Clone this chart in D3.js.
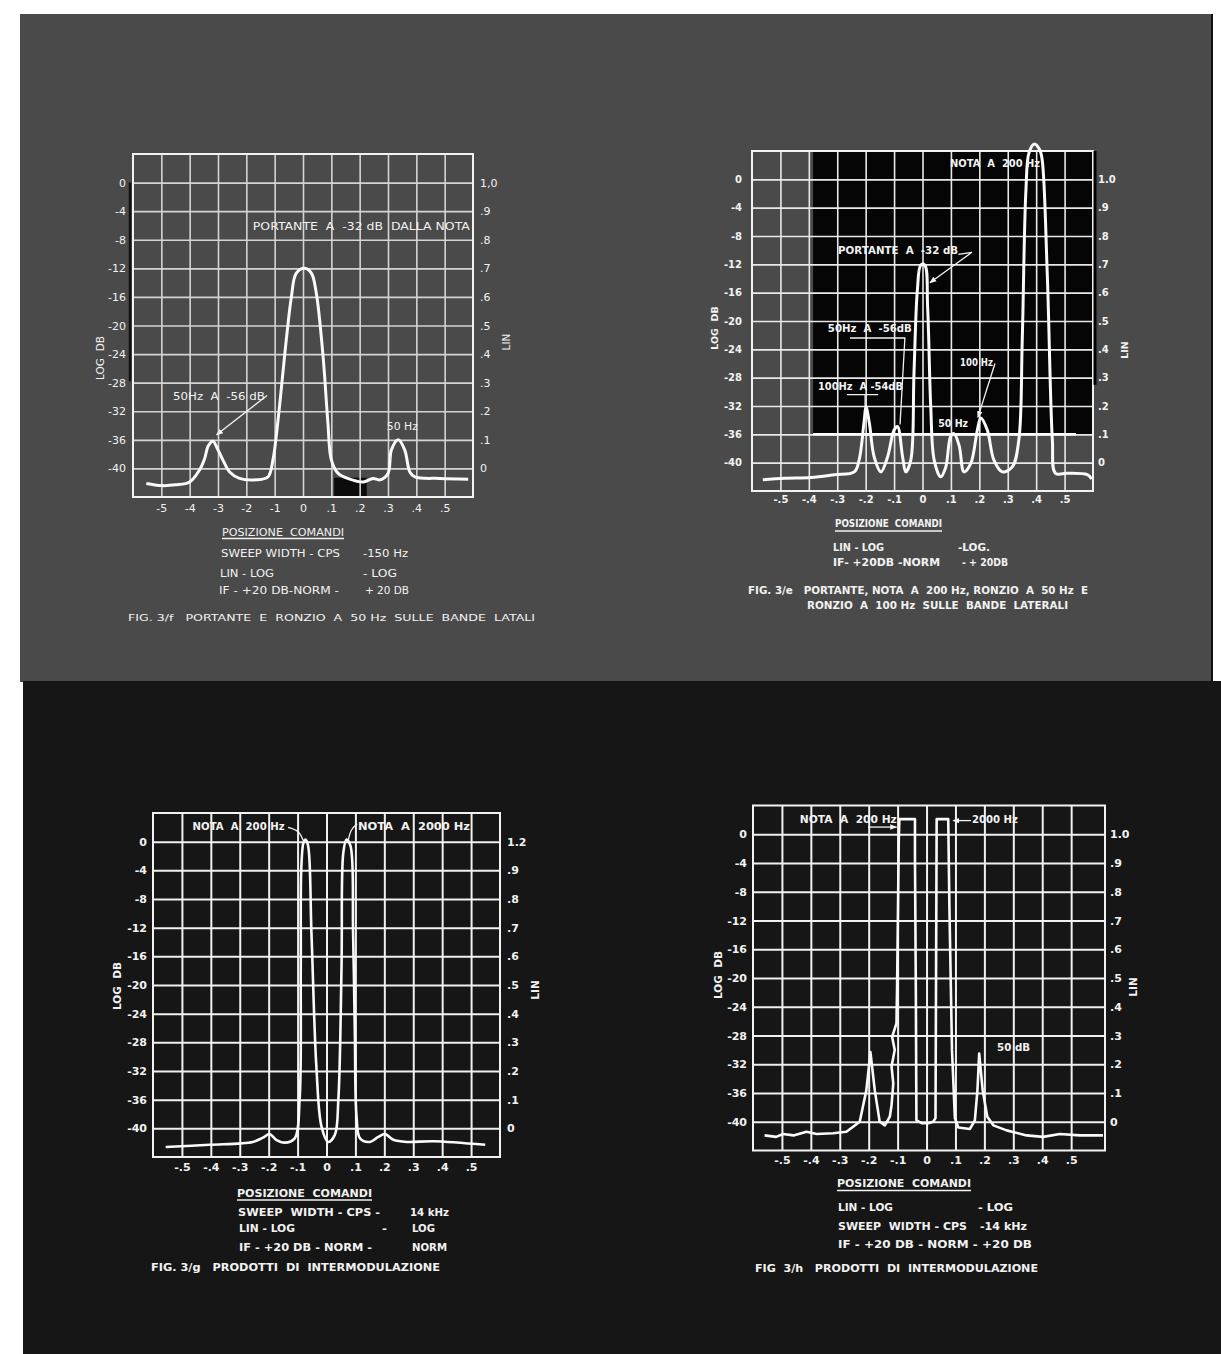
<!DOCTYPE html>
<html>
<head>
<meta charset="utf-8">
<script src="https://cdn.jsdelivr.net/npm/d3@7"></script>
<style>
  body { margin: 0; background: #fff; }
  svg { display: block; }
  svg text { white-space: pre; }
</style>
</head>
<body>
<div id="chart"></div>
<script>
const xTickVals = [-0.5, -0.4, -0.3, -0.2, -0.1, 0, 0.1, 0.2, 0.3, 0.4, 0.5];
const dbTickVals = [0, -4, -8, -12, -16, -20, -24, -28, -32, -36, -40];
const dbLabels = ["0", "-4", "-8", "-12", "-16", "-20", "-24", "-28", "-32", "-36", "-40"];
const xLabelsF = ["-5", "-4", "-3", "-2", "-1", "0", ".1", ".2", ".3", ".4", ".5"];
const xLabelsB = ["-.5", "-.4", "-.3", "-.2", "-.1", "0", ".1", ".2", ".3", ".4", ".5"];
const linLabelsF = ["1,0", ".9", ".8", ".7", ".6", ".5", ".4", ".3", ".2", ".1", "0"];
const linLabelsE = ["1.0", ".9", ".8", ".7", ".6", ".5", ".4", ".3", ".2", ".1", "0"];
const linLabelsG = ["1.2", ".9", ".8", ".7", ".6", ".5", ".4", ".3", ".2", ".1", "0"];

// traces: [sweep position, dB]
const traceF = [[-0.553,-42.1],[-0.50,-42.4],[-0.45,-42.3],[-0.40,-41.9],[-0.365,-40.2],[-0.347,-38.6],
  [-0.335,-36.9],[-0.318,-36.2],[-0.30,-37.4],[-0.283,-38.8],[-0.259,-40.5],[-0.224,-41.4],[-0.165,-41.6],
  [-0.124,-41.2],[-0.106,-38.8],[-0.088,-33.2],[-0.059,-22.0],[-0.041,-16.0],[-0.024,-12.7],[0.006,-12.0],
  [0.03,-12.7],[0.047,-15.5],[0.071,-24.4],[0.088,-33.7],[0.10,-38.8],[0.124,-40.7],[0.165,-41.5],
  [0.212,-41.9],[0.247,-41.4],[0.271,-41.6],[0.30,-40.7],[0.312,-37.4],[0.336,-36.0],[0.359,-37.4],
  [0.377,-40.5],[0.395,-41.2],[0.483,-41.4],[0.583,-41.5]];

const traceE = [[-0.562,-42.4],[-0.486,-42.2],[-0.392,-42.1],[-0.31,-41.7],[-0.24,-41.3],[-0.223,-39.6],
  [-0.205,-34.0],[-0.199,-32.1],[-0.187,-34.4],[-0.17,-39.2],[-0.146,-41.3],[-0.123,-39.2],[-0.10,-35.4],
  [-0.088,-34.9],[-0.07,-39.2],[-0.059,-41.3],[-0.041,-39.6],[-0.030,-27.4],[-0.018,-15.6],[-0.006,-12.1],
  [0.008,-12.1],[0.018,-18.0],[0.029,-32.1],[0.041,-39.6],[0.064,-42.0],[0.082,-40.6],[0.099,-36.3],
  [0.111,-35.9],[0.129,-37.6],[0.146,-41.3],[0.17,-40.1],[0.193,-35.4],[0.205,-33.7],[0.228,-35.4],
  [0.251,-39.6],[0.281,-41.3],[0.316,-40.6],[0.339,-36.8],[0.351,-22.7],[0.364,-1.5],[0.375,3.8],
  [0.394,5.0],[0.412,4.2],[0.421,2.8],[0.439,-13.3],[0.457,-36.8],[0.468,-41.5],[0.509,-41.5],
  [0.58,-41.7],[0.595,-42.3]];

const traceG = [[-0.556,-42.6],[-0.405,-42.3],[-0.255,-41.9],[-0.22,-41.3],[-0.197,-40.8],[-0.174,-41.6],
  [-0.145,-42.0],[-0.11,-41.4],[-0.093,-36.0],[-0.089,-17.4],[-0.087,-3.5],[-0.079,0],[-0.073,0.3],
  [-0.064,-0.5],[-0.052,-12.8],[-0.035,-31.4],[-0.017,-39.8],[0.006,-41.9],[0.029,-40.9],[0.041,-36.0],
  [0.052,-17.4],[0.058,-1.6],[0.069,0.3],[0.083,-0.6],[0.092,-12.8],[0.098,-26.7],[0.104,-38.4],
  [0.116,-41.4],[0.15,-41.9],[0.179,-41.2],[0.202,-40.8],[0.231,-41.6],[0.278,-41.9],[0.37,-41.8],
  [0.549,-42.3]];

const traceH = [[-0.56,-41.9],[-0.52,-42.1],[-0.496,-41.7],[-0.46,-41.9],[-0.415,-41.4],[-0.38,-41.7],
  [-0.323,-41.6],[-0.277,-41.4],[-0.231,-40.0],[-0.208,-35.6],[-0.194,-30.3],[-0.179,-35.6],[-0.162,-40.0],
  [-0.144,-40.5],[-0.127,-39.3],[-0.121,-37.7],[-0.115,-34.7],[-0.121,-32.3],[-0.110,-30.0],[-0.119,-28.2],
  [-0.104,-26.3],[-0.102,-21.7],[-0.098,-7.8],[-0.096,-0.8],[-0.094,2.1],[-0.040,2.1],[-0.040,-3.2],
  [-0.037,-21.7],[-0.035,-39.8],[-0.017,-40.2],[0.006,-40.2],[0.023,-40.0],[0.031,-39.5],[0.035,2.1],
  [0.075,2.1],[0.079,-10],[0.088,-30],[0.098,-39.5],[0.11,-40.8],[0.15,-41.0],[0.167,-39.8],
  [0.176,-35.6],[0.182,-30.5],[0.194,-35.6],[0.21,-39.3],[0.231,-40.5],[0.277,-41.2],[0.346,-41.9],
  [0.403,-42.1],[0.461,-41.7],[0.53,-41.9],[0.61,-41.9]];

// ---- page ----
const W = 1221, H = 1354;
const INK = "#f2f2f2";
const FONT = "'DejaVu Sans', sans-serif";

const svg = d3.select("#chart").append("svg")
    .attr("width", W)
    .attr("height", H)
    .attr("font-family", FONT);

const defs = svg.append("defs");
defs.append("marker")
    .attr("id", "arr")
    .attr("viewBox", "0 0 10 10")
    .attr("refX", 9).attr("refY", 5)
    .attr("markerWidth", 7).attr("markerHeight", 7)
    .attr("markerUnits", "userSpaceOnUse")
    .attr("orient", "auto")
    .append("path")
    .attr("d", "M0,1 L10,5 L0,9 Z")
    .attr("fill", INK);

// photographic backgrounds
svg.append("rect").attr("x", 20).attr("y", 14).attr("width", 1193).attr("height", 668).attr("fill", "#4a4a4a");
svg.append("line").attr("x1", 1212).attr("x2", 1212).attr("y1", 14).attr("y2", 682).attr("stroke", "#111").attr("stroke-width", 2);
svg.append("rect").attr("x", 23).attr("y", 681).attr("width", W - 23).attr("height", H - 681).attr("fill", "#161616");

function drawPanel(p) {
    const x = d3.scaleLinear().domain([-0.6, p.xMax]).range([p.left, p.right]);
    const y = d3.scaleLinear().domain([4, -44]).range([p.top, p.bottom]);
    const g = svg.append("g");
    const w = p.right - p.left, h = p.bottom - p.top;

    if (p.under) p.under(g, x, y);

    // grid + labels through d3 axes
    const gx = g.append("g")
        .attr("transform", `translate(0,${p.bottom})`)
        .call(d3.axisBottom(x).tickValues(xTickVals).tickSize(-h).tickPadding(p.xPad)
            .tickFormat((d, i) => p.xLabels[i]));
    const gl = g.append("g")
        .attr("transform", `translate(${p.left},0)`)
        .call(d3.axisLeft(y).tickValues(dbTickVals).tickSize(-w).tickPadding(p.lPad)
            .tickFormat((d, i) => dbLabels[i]));
    const gr = g.append("g")
        .attr("transform", `translate(${p.right},0)`)
        .call(d3.axisRight(y).tickValues(dbTickVals).tickSize(0).tickPadding(p.rPad)
            .tickFormat((d, i) => p.linLabels[i]));

    [gx, gl, gr].forEach(a => {
        a.select(".domain").remove();
        a.attr("font-family", FONT).attr("font-size", p.fs).attr("font-weight", p.fw);
        a.selectAll("line").attr("stroke", p.grid).attr("stroke-width", p.gw);
        a.selectAll("text").attr("fill", INK);
    });

    g.append("rect")
        .attr("x", p.left).attr("y", p.top).attr("width", w).attr("height", h)
        .attr("fill", "none").attr("stroke", INK).attr("stroke-width", 2);

    // axis titles
    g.append("text")
        .attr("transform", `translate(${p.logX},${p.logY}) rotate(-90)`)
        .attr("text-anchor", "middle").attr("dy", "0.35em")
        .attr("font-size", p.fs - 0.5).attr("font-weight", p.fw).attr("fill", INK)
        .text("LOG  DB");
    g.append("text")
        .attr("transform", `translate(${p.linX},${p.linY}) rotate(-90)`)
        .attr("text-anchor", "middle").attr("dy", "0.35em")
        .attr("font-size", p.fs - 0.5).attr("font-weight", p.fw).attr("fill", INK)
        .text("LIN");

    // the swept trace
    const line = d3.line().x(d => x(d[0])).y(d => y(d[1])).curve(p.curve);
    g.append("path")
        .datum(p.trace)
        .attr("d", line)
        .attr("fill", "none")
        .attr("stroke", "#fafafa")
        .attr("stroke-width", p.tw)
        .attr("stroke-linejoin", "round");

    if (p.over) p.over(g, x, y);
}

// annotation helpers (anchor in chart units, width in px)
function note(g, x, y, s, xv, db, width, weight) {
    g.append("text")
        .attr("x", x(xv)).attr("y", y(db))
        .attr("dy", "0.35em")
        .attr("font-size", 10).attr("font-weight", weight || "normal")
        .attr("textLength", width).attr("lengthAdjust", "spacingAndGlyphs")
        .attr("fill", INK)
        .text(s);
}
function lead(g, x, y, pts, arrow, curve) {
    g.append("path")
        .attr("d", d3.line().x(d => x(d[0])).y(d => y(d[1])).curve(curve || d3.curveLinear)(pts))
        .attr("fill", "none").attr("stroke", INK).attr("stroke-width", 1.3)
        .attr("marker-end", arrow ? "url(#arr)" : null);
}
function cap(s, x0, x1, yb, size, weight) {
    svg.append("text")
        .attr("x", x0).attr("y", yb)
        .attr("font-size", size).attr("font-weight", weight || "normal")
        .attr("textLength", x1 - x0).attr("lengthAdjust", "spacingAndGlyphs")
        .attr("fill", INK)
        .text(s);
}
function rule(x0, x1, yy) {
    svg.append("line").attr("x1", x0).attr("x2", x1).attr("y1", yy).attr("y2", yy)
        .attr("stroke", INK).attr("stroke-width", 1.3);
}

// ---- FIG. 3/f ----
drawPanel({
    left: 133, right: 473, top: 154, bottom: 497, xMax: 0.6,
    xLabels: xLabelsF, linLabels: linLabelsF, trace: traceF,
    xPad: 7, lPad: 7, rPad: 7, fs: 11, fw: "normal", grid: "#d4d4d4", gw: 1.6, tw: 3,
    logX: 100, logY: 358, linX: 506, linY: 342,
    curve: d3.curveCatmullRom.alpha(0.5),
    under: (g, x, y) => {
        // dark scan blemishes on the print
        g.append("rect").attr("x", x(0.11)).attr("y", y(-41.3))
            .attr("width", x(0.225) - x(0.11)).attr("height", y(-44) - y(-41.3)).attr("fill", "#0c0c0c");
        g.append("line").attr("x1", x(-0.6) - 3).attr("x2", x(-0.6) - 3)
            .attr("y1", y(0)).attr("y2", y(-27.8)).attr("stroke", "#111").attr("stroke-width", 2.5);
    },
    over: (g, x, y) => {
        note(g, x, y, "PORTANTE  A  -32 dB  DALLA NOTA", -0.177, -6.1, 217);
        note(g, x, y, "50Hz  A  -56 dB", -0.459, -29.9, 92);
        lead(g, x, y, [[-0.127, -29.8], [-0.305, -35.3]], true);
        note(g, x, y, "50 Hz", 0.296, -34.2, 31);
    }
});
cap("POSIZIONE  COMANDI", 222, 344, 535.5, 10.5);
rule(222, 344, 538.5);
cap("SWEEP WIDTH - CPS", 221, 340, 557, 10.5);
cap("-150 Hz", 363, 408, 557, 10.5);
cap("LIN - LOG", 220, 274, 577, 10.5);
cap("- LOG", 363, 397, 577, 10.5);
cap("IF - +20 DB-NORM -", 219, 339, 594, 10.5);
cap("+ 20 DB", 365, 409, 594, 10.5);
cap("FIG. 3/f   PORTANTE  E  RONZIO  A  50 Hz  SULLE  BANDE  LATALI", 128, 535, 620.5, 9.5);

// ---- FIG. 3/e ----
drawPanel({
    left: 752, right: 1093, top: 151, bottom: 491, xMax: 0.6,
    xLabels: xLabelsB, linLabels: linLabelsE, trace: traceE,
    xPad: 5, lPad: 10, rPad: 5, fs: 10, fw: "bold", grid: "#e8e8e8", gw: 1.6, tw: 3,
    logX: 715, logY: 328, linX: 1125, linY: 350,
    curve: d3.curveCatmullRom.alpha(0.5),
    under: (g, x, y) => {
        g.append("rect").attr("x", x(-0.385)).attr("y", y(4))
            .attr("width", x(0.6) - x(-0.385)).attr("height", y(-36) - y(4)).attr("fill", "#050505");
    },
    over: (g, x, y) => {
        g.append("line").attr("x1", x(-0.385)).attr("x2", x(0.54)).attr("y1", y(-36)).attr("y2", y(-36))
            .attr("stroke", "#fff").attr("stroke-width", 2.5);
        g.append("line").attr("x1", x(0.6) + 2).attr("x2", x(0.6) + 2).attr("y1", y(4)).attr("y2", y(-29))
            .attr("stroke", "#000").attr("stroke-width", 3);
        note(g, x, y, "NOTA  A  200 Hz", 0.097, 2.3, 90, "bold");
        note(g, x, y, "PORTANTE  A  -32 dB", -0.297, -10.0, 120, "bold");
        lead(g, x, y, [[0.126, -10.6], [0.174, -10.3], [0.026, -14.6]], true);
        note(g, x, y, "50Hz  A  -56dB", -0.333, -21.1, 84, "bold");
        lead(g, x, y, [[-0.255, -22.4], [-0.062, -22.4], [-0.079, -34.6]], false);
        note(g, x, y, "100Hz  A -54dB", -0.368, -29.2, 85, "bold");
        lead(g, x, y, [[-0.266, -30.4], [-0.156, -30.4]], false);
        lead(g, x, y, [[-0.202, -30.4], [-0.202, -32.0]], false);
        note(g, x, y, "100 Hz", 0.132, -25.9, 33, "bold");
        lead(g, x, y, [[0.255, -26.0], [0.195, -33.6]], true);
        note(g, x, y, "50 Hz", 0.055, -34.4, 30, "bold");
    }
});
cap("POSIZIONE  COMANDI", 835, 942, 527, 10, "bold");
rule(835, 942, 531);
cap("LIN - LOG", 833, 884, 551, 10, "bold");
cap("-LOG.", 958, 990, 551, 10, "bold");
cap("IF- +20DB -NORM", 833, 940, 566, 10, "bold");
cap("- + 20DB", 962, 1008, 566, 10, "bold");
cap("FIG. 3/e   PORTANTE, NOTA  A  200 Hz, RONZIO  A  50 Hz  E", 748, 1088, 594, 10, "bold");
cap("RONZIO  A  100 Hz  SULLE  BANDE  LATERALI", 807, 1068, 609, 10, "bold");

// ---- FIG. 3/g ----
drawPanel({
    left: 153, right: 500, top: 813, bottom: 1157, xMax: 0.6,
    xLabels: xLabelsB, linLabels: linLabelsG, trace: traceG,
    xPad: 6, lPad: 6, rPad: 7, fs: 11, fw: "bold", grid: "#f0f0f0", gw: 2, tw: 2.6,
    logX: 117, logY: 986, linX: 535, linY: 990,
    curve: d3.curveCatmullRom.alpha(0.5),
    over: (g, x, y) => {
        note(g, x, y, "NOTA  A  200 Hz", -0.463, 2.05, 92, "bold");
        lead(g, x, y, [[-0.133, 2.0], [-0.098, 1.4], [-0.081, 0.2]], false, d3.curveNatural);
        note(g, x, y, "NOTA  A  2000 Hz", 0.109, 2.05, 112, "bold");
        lead(g, x, y, [[0.106, 2.5], [0.086, 1.6], [0.075, 0.2]], false, d3.curveNatural);
    }
});
cap("POSIZIONE  COMANDI", 237, 372, 1197, 10.5, "bold");
rule(237, 372, 1200);
cap("SWEEP  WIDTH - CPS -", 238, 380, 1215.5, 10.5, "bold");
cap("14 kHz", 410, 449, 1215.5, 10.5, "bold");
cap("LIN - LOG", 239, 295, 1232, 10.5, "bold");
cap("-", 382, 387, 1232, 10.5, "bold");
cap("LOG", 412, 435, 1232, 10.5, "bold");
cap("IF - +20 DB - NORM -", 239, 372, 1251, 10.5, "bold");
cap("NORM", 412, 447, 1251, 10.5, "bold");
cap("FIG. 3/g   PRODOTTI  DI  INTERMODULAZIONE", 151, 440, 1271, 10.5, "bold");

// ---- FIG. 3/h ----
drawPanel({
    left: 753, right: 1105, top: 805.5, bottom: 1150.5, xMax: 0.617,
    xLabels: xLabelsB, linLabels: linLabelsE, trace: traceH,
    xPad: 6, lPad: 6, rPad: 5, fs: 11, fw: "bold", grid: "#f0f0f0", gw: 2, tw: 2.6,
    logX: 718, logY: 975, linX: 1133, linY: 987,
    curve: d3.curveLinear,
    over: (g, x, y) => {
        note(g, x, y, "NOTA  A  200 Hz", -0.438, 2.0, 97, "bold");
        lead(g, x, y, [[-0.202, 1.0], [-0.104, 1.0]], true);
        note(g, x, y, "2000 Hz", 0.157, 2.0, 46, "bold");
        lead(g, x, y, [[0.154, 1.9], [0.092, 1.9]], true);
        note(g, x, y, "50 dB", 0.244, -29.6, 33, "bold");
    }
});
cap("POSIZIONE  COMANDI", 837, 971, 1187, 10.5, "bold");
rule(837, 971, 1190.5);
cap("LIN - LOG", 838, 893, 1211, 10.5, "bold");
cap("- LOG", 978, 1013, 1211, 10.5, "bold");
cap("SWEEP  WIDTH - CPS", 838, 967, 1230, 10.5, "bold");
cap("-14 kHz", 980, 1027, 1230, 10.5, "bold");
cap("IF - +20 DB - NORM - +20 DB", 838, 1032, 1248, 10.5, "bold");
cap("FIG  3/h   PRODOTTI  DI  INTERMODULAZIONE", 755, 1038, 1272, 10.5, "bold");
</script>
</body>
</html>
